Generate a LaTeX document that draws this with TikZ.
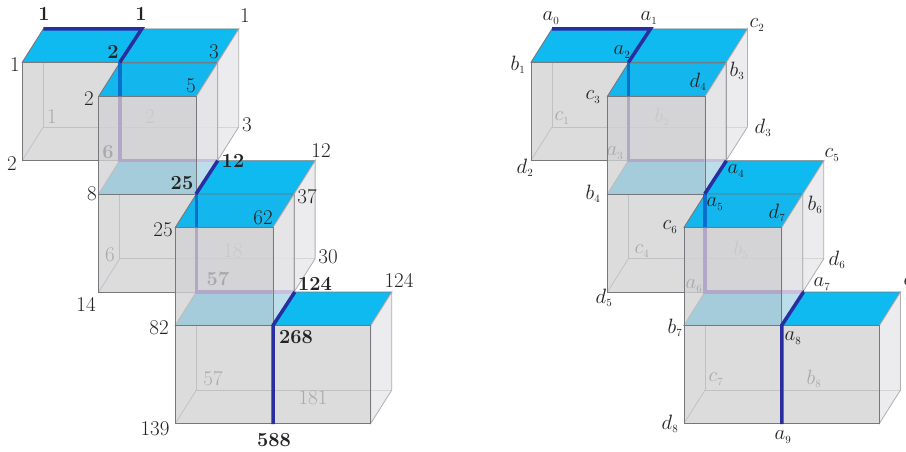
\documentclass[tikz,border=0pt]{standalone}
\usepackage{xcolor}
\definecolor{topblue}{RGB}{15,186,240}
\definecolor{topblueover}{RGB}{12,182,238}
\definecolor{frontgrey}{RGB}{210,210,212}
\definecolor{sidegrey}{RGB}{232,232,234}
\definecolor{edgegrey}{RGB}{120,120,124}
\definecolor{hiddengrey}{RGB}{140,140,144}
\definecolor{sideedge}{RGB}{175,175,178}
\definecolor{pathdark}{RGB}{40,45,160}
\definecolor{pathunder}{RGB}{70,30,160}
\definecolor{pathblue}{RGB}{10,110,205}
\definecolor{labink}{RGB}{35,35,35}
\tikzset{
  hiddenedge/.style={draw=hiddengrey,line width=0.8pt},
  topface/.style={fill=topblue,draw=edgegrey,line width=0.9pt},
  topfaceover/.style={fill=topblueover,fill opacity=0.96,draw=edgegrey,line width=0.9pt},
  frontface/.style={fill=frontgrey,fill opacity=0.77,draw=edgegrey,line width=0.9pt},
  sideface/.style={fill=sidegrey,fill opacity=0.8,draw=sideedge,line width=0.8pt},
  walk/.style={draw=pathdark,line width=3.5pt,line join=miter},
  walkunder/.style={draw=pathunder,line width=3.5pt,line join=miter},
  walkblue/.style={draw=pathblue,line width=3.5pt},
  lab/.style={inner sep=0pt,text=labink,font=\fontsize{21}{21}\selectfont},
  labb/.style={inner sep=0pt,text=labink,font=\fontsize{20}{20}\selectfont\bfseries},
  labm/.style={inner sep=0pt,text=labink,font=\fontsize{22}{22}\selectfont}
}
\newcommand{\ssub}[2]{$#1_{\scriptscriptstyle #2}$}
% #1,#2 = front top left corner, #3 = width
\newcommand{\boxhidden}[3]{
  \draw[hiddenedge] (#1+21,#2-33.3) -- (#1+21,#2+64.7) -- (#1+#3+21,#2+64.7);
  \draw[hiddenedge] (#1,#2+98) -- (#1+21,#2+64.7);
}
\newcommand{\boxtop}[4][topface]{
  \draw[#1] (#2,#3) -- (#2+#4,#3) -- (#2+#4+21,#3-33.3) -- (#2+21,#3-33.3) -- cycle;
}
\newcommand{\boxfaces}[3]{
  \draw[sideface] (#1+#3,#2) -- (#1+#3+21,#2-33.3) -- (#1+#3+21,#2+64.7) -- (#1+#3,#2+98) -- cycle;
  \draw[frontface] (#1,#2) rectangle (#1+#3,#2+98);
}
% #1 = labels behind everything, #2 = labels behind the small boxes, #3 = labels in front
\newcommand{\panel}[3]{
  %Hidden edges of the big boxes
  \boxhidden{22.3}{62.3}{195.4}
  \boxhidden{98.7}{194}{195.4}
  \boxhidden{175.4}{325.3}{195.4}
  \boxhidden{98.7}{96.3}{97.7}
  \boxhidden{175.4}{227.3}{97.7}
  #1
  %Blue tops of the big boxes
  \boxtop{22.3}{62.3}{195.4}
  \boxtop{98.7}{194}{195.4}
  \boxtop{175.4}{325.3}{195.4}
  %Faces of the big boxes
  \boxfaces{22.3}{62.3}{195.4}
  \boxfaces{98.7}{194}{195.4}
  \boxfaces{175.4}{325.3}{195.4}
  %Walk under the small boxes
  \draw[walkunder] (119.8,62.3) -- (119.8,160.7) -- (217.7,160.7);
  \draw[walkunder] (196.4,194) -- (196.4,292) -- (294.8,292);
  #2
  %Small boxes
  \boxtop[topfaceover]{98.7}{96.3}{97.7}
  \boxfaces{98.7}{96.3}{97.7}
  \boxtop[topfaceover]{175.4}{227.3}{97.7}
  \boxfaces{175.4}{227.3}{97.7}
  %Walk in front
  \draw[walkblue] (119.8,62.3) -- (119.8,96.3);
  \draw[walkblue] (196.4,194) -- (196.4,227.3);
  \draw[walk] (43.3,29) -- (141.7,29) -- (119.8,62.3);
  \draw[walk] (217.7,160.7) -- (196,194);
  \draw[walk] (294.8,292) -- (273.1,325.3) -- (273.1,424);
  #3
}
\begin{document}
\begin{tikzpicture}[x=1pt,y=1pt,yscale=-1]
  \path[use as bounding box,clip] (0,0) rectangle (906,452);
  \fill[white] (0,0) rectangle (906,452);
  % Left panel
  \panel{
    \node[lab] (lc1) at (52,117) {1};
    \node[lab] (lb2) at (150,117) {2};
    \node[lab] (lc4) at (110,255) {6};
    \node[lab] (lb5) at (233,251) {18};
    \node[lab] (lc7) at (213,379) {57};
    \node[lab] (lb8) at (313,398) {181};
  }{
    \node[labb] (la3) at (108,152) {6};
    \node[labb] (la6) at (218,279) {57};
  }{
    \node[labb] (la0) at (44,14) {1};
    \node[labb] (la1) at (141,14) {1};
    \node[lab] (lc2) at (245,16) {1};
    \node[lab] (lb1) at (15,65) {1};
    \node[labb] (la2) at (113,52) {2};
    \node[lab] (lb3) at (214,52) {3};
    \node[lab] (ld4) at (191,86) {5};
    \node[lab] (lc3) at (89,99) {2};
    \node[lab] (ld3) at (247,125) {3};
    \node[lab] (ld2) at (12,164) {2};
    \node[labb] (la4) at (233,161) {12};
    \node[lab] (lc5) at (321,151) {12};
    \node[labb] (la5) at (182,183) {25};
    \node[lab] (lb4) at (92,194) {8};
    \node[lab] (lb6) at (307,197) {37};
    \node[lab] (lc6) at (163,230) {25};
    \node[lab] (ld7) at (263,218) {62};
    \node[lab] (ld6) at (328,257) {30};
    \node[lab] (ld5) at (86,304) {14};
    \node[labb] (la7) at (315,284) {124};
    \node[lab] (lc8) at (399,280) {124};
    \node[lab] (lb7) at (159,328) {82};
    \node[labb] (la8) at (296,337) {268};
    \node[lab] (ld8) at (155,429) {139};
    \node[labb] (la9) at (274,440) {588};
  }
  % Right panel
  \begin{scope}[xshift=508.7pt]
    \panel{
      \node[labm] (rc1) at (53.3,118) {\ssub{c}{1}};
      \node[labm] (rb2) at (153.3,117) {\ssub{b}{2}};
      \node[labm] (rc4) at (133.3,251) {\ssub{c}{4}};
      \node[labm] (rb5) at (232.3,250) {\ssub{b}{5}};
      \node[labm] (rc7) at (207.3,379) {\ssub{c}{7}};
      \node[labm] (rb8) at (305.3,379) {\ssub{b}{8}};
    }{
      \node[labm] (ra3) at (106.3,153) {\ssub{a}{3}};
      \node[labm] (ra6) at (185.3,286) {\ssub{a}{6}};
    }{
      \node[labm] (ra0) at (42.3,18) {\ssub{a}{0}};
      \node[labm] (ra1) at (140.3,18) {\ssub{a}{1}};
      \node[labm] (rc2) at (248.3,25) {\ssub{c}{2}};
      \node[labm] (rb1) at (9.3,65) {\ssub{b}{1}};
      \node[labm] (ra2) at (113.3,52) {\ssub{a}{2}};
      \node[labm] (rb3) at (228.3,71) {\ssub{b}{3}};
      \node[labm] (rd4) at (189.3,82) {\ssub{d}{4}};
      \node[labm] (rc3) at (84.3,97) {\ssub{c}{3}};
      \node[labm] (rd3) at (254.3,128) {\ssub{d}{3}};
      \node[labm] (rd2) at (16.3,168) {\ssub{d}{2}};
      \node[labm] (ra4) at (227.3,171) {\ssub{a}{4}};
      \node[labm] (rb4) at (84.3,194) {\ssub{b}{4}};
      \node[labm] (ra5) at (206.3,204) {\ssub{a}{5}};
      \node[labm] (rd7) at (268.3,213) {\ssub{d}{7}};
      \node[labm] (rc6) at (161.3,227) {\ssub{c}{6}};
      \node[labm] (rc5) at (323.3,155) {\ssub{c}{5}};
      \node[labm] (rb6) at (306.3,205) {\ssub{b}{6}};
      \node[labm] (rd6) at (328.3,260) {\ssub{d}{6}};
      \node[labm] (rd5) at (95.3,298) {\ssub{d}{5}};
      \node[labm] (ra7) at (313.3,284) {\ssub{a}{7}};
      \node[labm] (rc8) at (402.3,283) {\ssub{c}{8}};
      \node[labm] (rb7) at (166.3,328) {\ssub{b}{7}};
      \node[labm] (ra8) at (284.3,338) {\ssub{a}{8}};
      \node[labm] (rd8) at (161.3,424) {\ssub{d}{8}};
      \node[labm] (ra9) at (274.3,437) {\ssub{a}{9}};
    }
  \end{scope}
\end{tikzpicture}
\end{document}
